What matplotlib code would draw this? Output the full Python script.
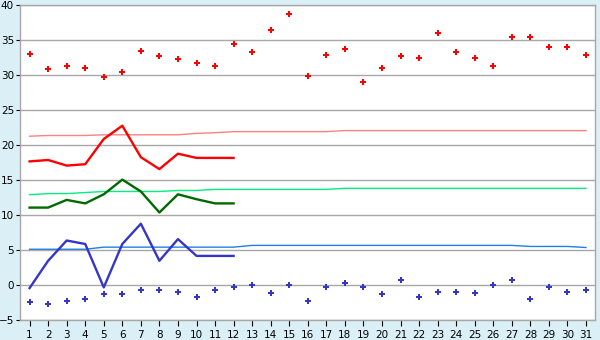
import matplotlib
matplotlib.use('Agg')
import matplotlib.pyplot as plt
import numpy as np

days = list(range(1, 32))

# daily extremes (points)
max_pts = [33.0, 30.9, 31.3, 31.0, 29.7, 30.4, 33.4, 32.7, 32.3, 31.7,
           31.3, 34.4, 33.3, 36.4, 38.7, 29.9, 32.9, 33.7, 29.1, 31.1,
           32.7, 32.4, 36.0, 33.3, 32.4, 31.3, 35.4, 35.4, 34.0, 34.1, 32.9]
min_pts = [-2.4, -2.7, -2.3, -2.0, -1.3, -1.3, -0.7, -0.7, -1.0, -1.6,
           -0.6, -0.3, 0.0, -1.1, 0.1, -2.3, -0.3, 0.3, -0.3, -1.3,
           0.7, -1.6, -0.9, -0.9, -1.1, 0.0, 0.7, -1.9, -0.3, -1.0, -0.6]

# observed series, first 12 days
obs_days = days[:12]
obs_max = [17.7, 17.9, 17.1, 17.3, 20.9, 22.8, 18.3, 16.6, 18.8, 18.2, 18.2, 18.2]
obs_mean = [11.1, 11.1, 12.2, 11.7, 13.0, 15.1, 13.4, 10.4, 13.0, 12.3, 11.7, 11.7]
obs_min = [-0.4, 3.5, 6.4, 5.9, -0.3, 5.9, 8.8, 3.5, 6.6, 4.2, 4.2, 4.2]

# normals
norm_max = [21.3, 21.4, 21.4, 21.4, 21.5, 21.5, 21.5, 21.5, 21.5, 21.7,
            21.8, 21.95, 21.95, 21.95, 21.95, 21.95, 21.95, 22.1, 22.1, 22.1,
            22.1, 22.1, 22.1, 22.1, 22.1, 22.1, 22.1, 22.1, 22.1, 22.1, 22.1]
norm_mean = [12.95, 13.1, 13.1, 13.25, 13.4, 13.4, 13.4, 13.4, 13.55, 13.55,
             13.7, 13.7, 13.7, 13.7, 13.7, 13.7, 13.7, 13.85, 13.85, 13.85,
             13.85, 13.85, 13.85, 13.85, 13.85, 13.85, 13.85, 13.85, 13.85, 13.85, 13.85]
norm_min = [5.15, 5.15, 5.15, 5.15, 5.45, 5.45, 5.45, 5.45, 5.45, 5.45,
            5.45, 5.45, 5.7, 5.7, 5.7, 5.7, 5.7, 5.7, 5.7, 5.7,
            5.7, 5.7, 5.7, 5.7, 5.7, 5.7, 5.7, 5.55, 5.55, 5.55, 5.4]

BG = '#daf0f6'
GRID = '#a8a8a8'

fig = plt.figure(figsize=(6, 3.4), dpi=100, facecolor=BG)
ax = fig.add_axes([20.3 / 600, 19.7 / 340, 575 / 600, 315 / 340])
ax.set_facecolor('white')

ax.plot(days, norm_max, color='#ff8080', lw=1.0, zorder=2)
ax.plot(days, norm_mean, color='#00f080', lw=1.0, zorder=2)
ax.plot(days, norm_min, color='#1e80e8', lw=1.0, zorder=2)

ax.plot(obs_days, obs_max, color='#ff0000', lw=1.7, zorder=3)
ax.plot(obs_days, obs_mean, color='#006800', lw=1.7, zorder=3)
ax.plot(obs_days, obs_min, color='#3535c8', lw=1.7, zorder=3)

ax.plot(days, max_pts, ls='none', marker='P', ms=4.5, mew=0, color='#ff0000', zorder=4)
ax.plot(days, min_pts, ls='none', marker='P', ms=4.5, mew=0, color='#3535c8', zorder=4)

ax.set_xlim(0.5, 31.5)
ax.set_ylim(-5, 40)
ax.set_xticks(days)
ax.set_yticks(np.arange(-5, 41, 5))
ax.yaxis.grid(True, color=GRID, lw=1.0)
ax.set_axisbelow(True)

for s in ax.spines.values():
    s.set_color(GRID)
    s.set_linewidth(1.0)

ax.tick_params(axis='y', length=3, width=0.8, color='black', pad=1.5, labelsize=7.5)
ax.tick_params(axis='x', length=4.5, width=0.8, color='black', pad=2.5, labelsize=7.5)

fig.savefig('out.png', dpi=100, facecolor=BG)
